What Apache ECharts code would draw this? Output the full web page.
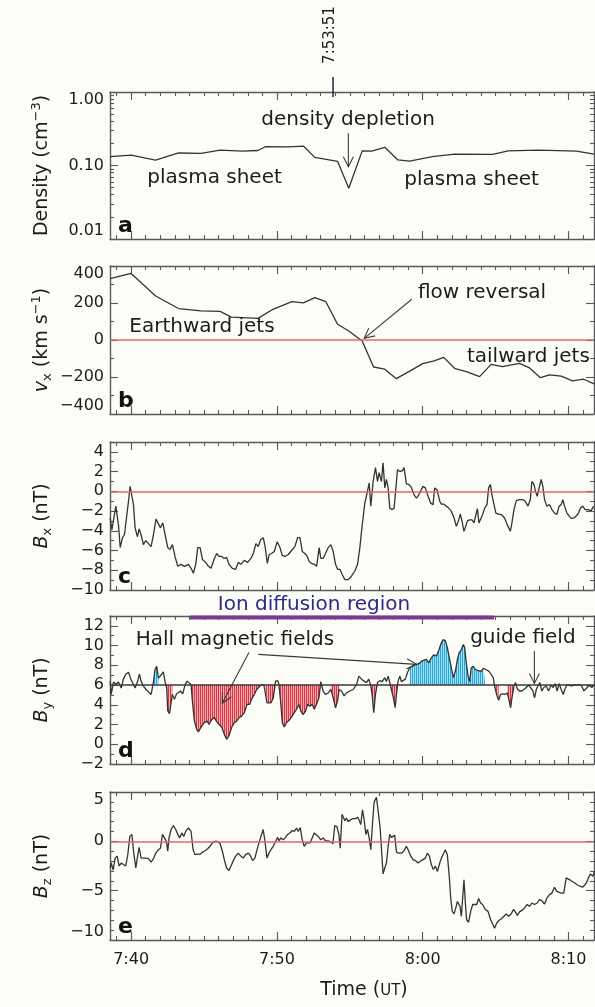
<!DOCTYPE html>
<html>
<head>
<meta charset="utf-8">
<script src="https://cdn.jsdelivr.net/npm/echarts@6/dist/echarts.min.js"></script>
<style>
  html, body { margin: 0; padding: 0; background: #fdfdf8; }
  #chart { width: 595px; height: 1007px; }
</style>
</head>
<body>
<div id="chart"></div>
<script>
// ---------- data (time in minutes after 07:00 UT) ----------
const timeRange = [38.55, 71.75];
const timeTickMinutes = [40, 50, 60, 70];
const timeTickLabels = ['7:40', '7:50', '8:00', '8:10'];

const densityTicks = [0.01, 0.1, 1];
const vxTicks = [-400, -200, 0, 200, 400];
const bxTicks = [-10, -8, -6, -4, -2, 0, 2, 4];
const byTicks = [-2, 0, 2, 4, 6, 8, 10, 12];
const bzTicks = [-10, -5, 0, 5];

const depletionTime = 53 + 51 / 60;          // 7:53:51
const depletionLabel = '7:53:51';
const guideFieldLevel = 6;                   // nT
const ionDiffusionSpan = [44.04, 64.89];

// intervals of the Hall field shading (minutes)
const hallNegativeSpans = [[38.56, 38.79], [42.33, 42.83], [44.11, 48.95], [49.22, 49.91],
  [50.14, 53.01], [53.7, 54.27], [56.44, 56.9], [57.74, 58.31], [64.93, 65.21], [65.8, 66.26]];
const hallPositiveSpans = [[41.53, 41.87], [59.11, 64.29]];

// density (cm^-3)
const densitySamples = [[38.56,0.132],[40.0,0.138],[41.68,0.118],[43.25,0.148],[44.79,0.146],[46.1,0.162],
  [47.67,0.157],[48.7,0.16],[49.2,0.18],[50.75,0.179],[51.82,0.184],[52.6,0.129],[54.16,0.114],[54.93,0.049],
  [55.85,0.158],[56.5,0.157],[57.4,0.177],[58.3,0.119],[59.1,0.115],[60.66,0.132],[62.2,0.143],[64.8,0.142],
  [65.86,0.158],[67.95,0.162],[70.55,0.157],[71.75,0.143]];

// vx (km/s)
const vxSamples = [[38.56,332],[40.0,360],[41.68,238],[43.25,170],[44.79,157],[46.1,155],[46.88,124],[48.7,117],
  [49.73,166],[51.03,207],[51.82,201],[52.6,229],[53.36,207],[54.16,85],[54.93,49],[55.85,-5],[56.63,-146],
  [57.4,-158],[58.19,-209],[59.11,-168],[60.0,-128],[60.79,-113],[61.44,-94],[62.22,-155],[63.0,-171],
  [63.9,-198],[64.69,-132],[65.47,-144],[66.64,-126],[67.29,-149],[68.07,-204],[68.7,-188],[69.5,-195],
  [70.27,-221],[71.05,-212],[71.75,-237]];

// Bx (nT)
const bxSamples = [[38.56,-2.7],[38.68,-3.9],[38.95,-1.5],[39.13,-3.4],[39.25,-5.7],[39.41,-4.7],[39.54,-4.4],
  [39.63,-4.3],[39.82,-1.0],[39.93,0.5],[40.05,0.3],[40.16,-1.35],[40.27,-3.7],[40.43,-4.6],[40.55,-3.8],
  [40.68,-4.4],[40.84,-5.4],[41.0,-5.0],[41.19,-5.3],[41.37,-5.6],[41.53,-4.4],[41.71,-2.8],[41.87,-3.3],
  [42.01,-3.7],[42.17,-3.2],[42.33,-4.4],[42.51,-5.7],[42.67,-5.9],[42.83,-5.4],[43.01,-6.6],[43.2,-7.6],
  [43.42,-7.4],[43.65,-7.6],[43.93,-7.4],[44.11,-7.8],[44.27,-8.3],[44.43,-7.4],[44.57,-5.7],[44.73,-5.7],
  [44.89,-6.9],[45.11,-7.2],[45.3,-7.6],[45.48,-7.8],[45.71,-6.8],[45.87,-6.3],[46.03,-6.6],[46.21,-6.6],
  [46.39,-6.8],[46.55,-6.7],[46.71,-7.4],[46.94,-7.8],[47.17,-7.9],[47.35,-7.2],[47.53,-7.4],[47.76,-7.0],
  [47.99,-7.2],[48.22,-6.8],[48.38,-6.3],[48.56,-5.3],[48.72,-5.6],[48.88,-4.9],[49.06,-4.7],[49.18,-5.5],
  [49.34,-7.3],[49.47,-6.4],[49.63,-6.3],[49.82,-6.1],[50.02,-5.1],[50.21,-5.7],[50.37,-6.5],[50.55,-6.6],
  [50.78,-6.4],[51.0,-6.0],[51.23,-5.6],[51.42,-4.7],[51.58,-4.7],[51.74,-6.1],[51.92,-6.3],[52.08,-6.6],
  [52.21,-7.1],[52.37,-7.3],[52.56,-7.4],[52.72,-7.6],[52.9,-5.7],[53.01,-6.8],[53.17,-6.8],[53.33,-6.3],
  [53.52,-5.7],[53.7,-5.4],[53.86,-6.1],[54.02,-7.4],[54.16,-7.9],[54.32,-7.9],[54.47,-8.4],[54.66,-8.95],
  [54.89,-8.95],[55.11,-8.6],[55.34,-8.1],[55.53,-7.4],[55.69,-5.7],[55.85,-3.4],[56.03,-1.2],[56.21,0.0],
  [56.33,0.85],[56.44,-1.5],[56.6,1.0],[56.76,2.4],[56.9,1.0],[57.01,1.9],[57.17,1.0],[57.28,2.9],[57.4,0.35],
  [57.51,1.2],[57.63,0.35],[57.74,-1.7],[57.9,-1.85],[58.04,-1.7],[58.15,0.15],[58.27,2.2],[58.43,2.0],
  [58.61,2.1],[58.72,2.4],[58.88,0.75],[59.04,0.7],[59.22,0.4],[59.41,-0.35],[59.57,-0.7],[59.73,-0.35],
  [59.86,-0.35],[60.02,0.5],[60.18,0.35],[60.37,-0.5],[60.55,-1.2],[60.71,-1.35],[60.82,0.35],[60.98,0.15],
  [61.17,-1.0],[61.28,-1.3],[61.46,-1.3],[61.62,-1.5],[61.78,-1.7],[61.96,-2.0],[62.15,-2.7],[62.31,-3.55],
  [62.47,-2.9],[62.58,-2.3],[62.69,-3.0],[62.83,-4.05],[62.95,-3.55],[63.06,-3.0],[63.22,-2.9],[63.38,-2.9],
  [63.52,-3.2],[63.63,-2.5],[63.75,-1.75],[63.86,-3.2],[63.97,-3.2],[64.11,-2.35],[64.25,-1.7],[64.41,-1.35],
  [64.52,0.35],[64.64,0.7],[64.75,-0.35],[64.89,-1.35],[65.02,-2.2],[65.21,-2.3],[65.39,-2.35],[65.62,-2.7],
  [65.8,-3.4],[66.01,-4.05],[66.12,-3.2],[66.26,-1.85],[66.42,-0.95],[66.64,-0.85],[66.87,-0.85],[67.03,-1.0],
  [67.22,-1.5],[67.38,-0.85],[67.49,1.0],[67.63,0.7],[67.74,0.0],[67.85,-0.5],[68.01,0.5],[68.13,1.2],
  [68.24,0.5],[68.36,-0.85],[68.52,-1.5],[68.7,-1.35],[68.86,-1.85],[69.04,-2.2],[69.2,-2.35],[69.36,-1.5],
  [69.5,-1.35],[69.61,-0.85],[69.73,-1.5],[69.89,-2.2],[70.02,-2.35],[70.18,-2.75],[70.37,-2.7],[70.53,-2.5],
  [70.69,-2.2],[70.82,-1.7],[70.98,-1.5],[71.14,-1.85],[71.33,-1.85],[71.44,-1.7],[71.55,-1.95],[71.74,-1.5]];

// By (nT)
const bySamples = [[38.56,6.4],[38.63,5.05],[38.79,6.3],[38.95,6.1],[39.13,6.3],[39.32,5.7],[39.47,6.6],
  [39.63,7.1],[39.82,7.3],[39.98,6.6],[40.11,6.2],[40.27,5.7],[40.43,6.3],[40.57,7.1],[40.68,6.4],[40.84,5.9],
  [41.0,5.6],[41.19,5.3],[41.37,5.05],[41.53,6.3],[41.64,7.6],[41.76,7.9],[41.87,6.7],[41.99,6.9],[42.1,7.1],
  [42.21,7.35],[42.33,6.3],[42.44,5.7],[42.51,3.4],[42.63,3.1],[42.74,3.2],[42.83,5.05],[42.97,4.55],
  [43.11,5.1],[43.24,4.95],[43.38,5.4],[43.54,5.1],[43.7,6.05],[43.84,6.4],[43.97,6.6],[44.11,6.05],[44.2,4.4],
  [44.34,2.35],[44.5,1.5],[44.61,1.25],[44.73,1.05],[44.84,1.85],[45.02,2.2],[45.21,2.35],[45.34,2.0],
  [45.53,2.5],[45.71,2.7],[45.87,2.3],[46.03,2.0],[46.21,1.75],[46.39,1.0],[46.55,0.5],[46.71,0.85],[46.89,1.7],
  [47.08,2.2],[47.24,2.35],[47.4,2.7],[47.58,2.85],[47.76,3.2],[47.95,4.05],[48.13,4.05],[48.26,4.55],
  [48.45,5.05],[48.61,5.55],[48.77,5.8],[48.95,6.05],[49.11,6.0],[49.22,6.1],[49.32,4.2],[49.45,4.1],[49.59,4.2],
  [49.75,4.7],[49.91,6.4],[50.05,6.45],[50.14,6.05],[50.25,4.4],[50.37,2.2],[50.5,1.75],[50.66,2.2],[50.82,2.4],
  [51.0,2.75],[51.19,3.2],[51.35,3.55],[51.51,4.05],[51.64,3.35],[51.8,3.0],[51.96,3.35],[52.1,4.05],
  [52.26,3.85],[52.42,4.05],[52.56,3.55],[52.65,3.35],[52.76,4.2],[52.88,4.7],[53.01,6.35],[53.17,5.4],
  [53.33,5.05],[53.52,5.2],[53.7,5.55],[53.86,4.7],[54.02,3.7],[54.16,4.4],[54.27,5.55],[54.43,5.4],[54.61,4.9],
  [54.77,5.2],[55.0,5.4],[55.23,5.55],[55.46,6.05],[55.62,6.9],[55.8,6.6],[55.98,6.4],[56.14,6.25],[56.3,6.6],
  [56.44,5.9],[56.53,5.05],[56.64,3.2],[56.76,5.05],[56.9,6.25],[57.06,6.45],[57.22,6.35],[57.4,6.75],
  [57.51,6.35],[57.63,6.9],[57.74,6.25],[57.85,5.55],[57.99,4.7],[58.11,3.7],[58.2,5.05],[58.31,6.4],[58.43,6.9],
  [58.54,6.35],[58.65,6.25],[58.81,6.6],[58.95,7.25],[59.11,7.75],[59.27,7.9],[59.45,8.1],[59.64,8.1],
  [59.8,8.25],[59.96,8.45],[60.09,8.45],[60.25,8.6],[60.41,8.25],[60.59,8.75],[60.75,9.05],[60.94,8.95],
  [61.1,9.5],[61.23,10.1],[61.39,10.6],[61.55,10.5],[61.69,9.8],[61.8,8.95],[61.92,8.1],[62.01,7.4],[62.1,6.75],
  [62.24,7.4],[62.38,8.6],[62.51,9.3],[62.65,9.6],[62.79,10.1],[62.88,9.8],[62.99,8.25],[63.11,6.9],[63.22,6.35],
  [63.33,7.75],[63.47,7.9],[63.61,7.6],[63.75,7.5],[63.88,7.35],[64.02,7.4],[64.16,7.7],[64.29,7.9],[64.43,7.5],
  [64.57,7.35],[64.7,7.35],[64.84,6.75],[64.93,5.9],[65.07,5.05],[65.21,4.45],[65.34,5.05],[65.5,5.1],
  [65.66,5.05],[65.8,5.2],[65.91,4.55],[66.03,3.7],[66.12,4.7],[66.26,5.9],[66.37,6.25],[66.48,5.65],[66.64,5.4],
  [66.8,5.4],[66.94,5.55],[67.1,5.75],[67.26,6.0],[67.4,5.75],[67.56,5.4],[67.67,4.7],[67.79,5.55],[67.9,5.9],
  [68.04,6.25],[68.17,5.4],[68.31,5.75],[68.47,5.9],[68.63,5.4],[68.81,6.0],[68.95,5.75],[69.09,6.15],
  [69.22,5.4],[69.36,6.15],[69.5,5.55],[69.64,5.05],[69.77,5.65],[69.91,6.05],[70.05,6.0],[70.23,5.9],
  [70.41,6.05],[70.59,6.0],[70.75,6.05],[70.91,5.9],[71.05,5.4],[71.14,5.2],[71.28,5.75],[71.44,6.0],
  [71.6,5.75],[71.74,6.0]];

// Bz (nT)
const bzSamples = [[38.56,-2.7],[38.63,-2.2],[38.77,-2.9],[38.9,-1.7],[39.04,-1.5],[39.18,-2.5],[39.32,-2.2],
  [39.47,-2.35],[39.63,-2.5],[39.77,-1.35],[39.91,0.5],[40.05,0.7],[40.18,-1.2],[40.32,-2.7],[40.46,-1.35],
  [40.55,-0.6],[40.68,-1.7],[40.84,-1.7],[41.0,-1.7],[41.19,-1.75],[41.37,-2.1],[41.53,-1.75],[41.69,-1.2],
  [41.87,-0.85],[42.01,-0.7],[42.15,0.7],[42.28,0.85],[42.42,0.0],[42.51,-1.0],[42.6,0.35],[42.74,1.2],
  [42.9,1.6],[43.06,1.2],[43.2,0.7],[43.33,0.35],[43.47,0.85],[43.61,0.5],[43.74,1.0],[43.93,1.35],[44.11,1.0],
  [44.25,-0.85],[44.38,-1.35],[44.57,-1.3],[44.73,-1.3],[44.89,-1.1],[45.07,-0.95],[45.25,-0.75],[45.41,-0.5],
  [45.57,-0.15],[45.75,0.0],[45.94,0.0],[46.1,-0.25],[46.26,-1.0],[46.39,-1.85],[46.55,-2.7],[46.71,-2.95],
  [46.85,-2.5],[47.01,-1.95],[47.17,-1.5],[47.35,-1.2],[47.53,-1.5],[47.69,-1.7],[47.85,-1.35],[48.04,-1.2],
  [48.2,-1.5],[48.33,-1.95],[48.49,-1.7],[48.61,-1.0],[48.77,-0.15],[48.95,0.7],[49.06,1.2],[49.18,0.0],
  [49.32,-1.7],[49.45,-1.2],[49.59,-0.85],[49.75,-0.5],[49.91,0.0],[50.05,0.4],[50.14,0.05],[50.27,0.35],
  [50.43,0.15],[50.59,0.4],[50.73,0.7],[50.89,0.85],[51.05,1.1],[51.19,1.0],[51.35,1.35],[51.46,1.0],[51.6,1.4],
  [51.74,0.15],[51.87,-0.5],[52.03,-0.15],[52.15,0.05],[52.28,-0.15],[52.42,0.35],[52.56,0.85],[52.69,1.0],
  [52.83,0.5],[53.01,0.15],[53.17,0.35],[53.33,0.05],[53.52,0.05],[53.7,-0.05],[53.84,-0.25],[53.97,1.6],
  [54.11,1.5],[54.25,0.7],[54.34,-0.7],[54.47,2.75],[54.54,2.5],[54.66,2.1],[54.77,2.35],[54.89,2.0],
  [55.07,2.2],[55.23,2.3],[55.39,2.3],[55.53,2.45],[55.62,2.2],[55.75,1.7],[55.87,3.2],[55.98,2.2],[56.1,0.7],
  [56.21,1.2],[56.33,0.35],[56.44,-0.85],[56.55,1.7],[56.67,4.0],[56.83,4.45],[56.94,4.55],[57.08,1.35],
  [57.17,-0.7],[57.28,-3.3],[57.4,-2.7],[57.51,-2.2],[57.63,-0.5],[57.74,0.7],[57.85,0.4],[57.97,0.35],
  [58.08,0.6],[58.2,-1.1],[58.36,-1.2],[58.54,-1.2],[58.72,-0.95],[58.88,-0.5],[59.0,-0.85],[59.18,-1.5],
  [59.34,-1.85],[59.5,-1.95],[59.68,-2.2],[59.86,-2.0],[60.02,-1.85],[60.18,-1.7],[60.32,-1.2],[60.46,-1.5],
  [60.59,-2.35],[60.73,-2.85],[60.87,-2.5],[61.01,-3.05],[61.17,-2.2],[61.28,-1.7],[61.44,-1.2],[61.55,-0.85],
  [61.69,-1.35],[61.83,-3.7],[61.92,-5.75],[62.03,-7.1],[62.15,-7.35],[62.28,-6.7],[62.38,-6.1],[62.47,-6.1],
  [62.56,-6.6],[62.65,-7.6],[62.74,-7.4],[62.83,-3.9],[62.92,-6.1],[63.01,-7.95],[63.15,-8.2],[63.29,-7.1],
  [63.43,-6.4],[63.56,-6.35],[63.7,-6.4],[63.84,-5.8],[63.97,-6.25],[64.11,-6.4],[64.29,-6.9],[64.48,-7.1],
  [64.66,-7.95],[64.82,-8.45],[64.93,-8.8],[65.07,-8.3],[65.21,-8.05],[65.39,-7.85],[65.57,-7.6],[65.73,-7.35],
  [65.89,-7.6],[66.07,-7.35],[66.23,-6.9],[66.35,-7.15],[66.49,-7.5],[66.64,-7.15],[66.8,-7.0],[66.99,-6.75],
  [67.17,-6.4],[67.33,-6.6],[67.49,-6.25],[67.67,-6.4],[67.85,-6.25],[68.01,-5.9],[68.17,-6.0],[68.36,-6.35],
  [68.52,-5.75],[68.7,-5.4],[68.86,-5.25],[69.04,-4.65],[69.18,-5.05],[69.32,-5.15],[69.5,-5.25],[69.68,-5.25],
  [69.84,-3.7],[69.96,-3.55],[70.09,-3.9],[70.23,-4.05],[70.41,-4.2],[70.59,-4.4],[70.78,-4.55],[70.96,-4.65],
  [71.1,-4.45],[71.23,-4.2],[71.37,-3.7],[71.51,-3.3],[71.67,-3.55],[71.78,-3.05]];

// ---------- styling ----------
const FONT = 'DejaVu Sans';
const INK = '#1c1c1c';
const FRAME = '#585858';
const TRACE = '#333333';
const ZERO_RED = '#e4646c';
const TICK_FONT = 16;
const NOTE_FONT = 20;

const gridLeft = 110, gridWidth = 484;
const panelBoxes = [[92, 147], [266, 148], [442, 148], [616, 148], [792, 148]];

const minuteTicks = [];
for (let m = 39; m <= 71; m++) minuteTicks.push(m);

function intSteps(lo, hi, step) { const a = []; for (let v = lo; v <= hi + 1e-9; v += step) a.push(+v.toFixed(6)); return a; }
const densityMinor = [];
[0.01, 0.1].forEach(d => { for (let k = 2; k <= 9; k++) densityMinor.push(+(d * k).toFixed(4)); });

const minusFmt = v => String(v).replace('-', '\u2212');

const nameRich = {
  n:   { fontFamily: FONT, fontSize: 19, color: INK, lineHeight: 24 },
  i:   { fontFamily: FONT, fontSize: 19, color: INK, lineHeight: 24, fontStyle: 'italic' },
  sub: { fontFamily: FONT, fontSize: 13, color: INK, lineHeight: 11, verticalAlign: 'bottom' },
  sup: { fontFamily: FONT, fontSize: 13, color: INK, lineHeight: 15, verticalAlign: 'top' },
  sc:  { fontFamily: FONT, fontSize: 15, color: INK, lineHeight: 24, verticalAlign: 'middle', padding: [3, 0, 0, 0] }
};

const panels = [
  { type: 'log', min: 0.01, max: 1, ticks: densityTicks, minor: densityMinor, fmt: v => v.toFixed(2),
    name: '{n|Density (cm}{sup|\u22123}{n|)}', edgeLabels: true },
  { type: 'value', min: -400, max: 400, ticks: vxTicks, minor: intSteps(-300, 300, 200), fmt: minusFmt,
    name: '{i|v}{sub|x}{n| (km s}{sup|\u22121}{n|)}', edgeLabels: true },
  { type: 'value', min: -10, max: 5, ticks: bxTicks, minor: intSteps(-9, 5, 2), fmt: minusFmt,
    name: '{i|B}{sub|x}{n| (nT)}', edgeLabels: false },
  { type: 'value', min: -2, max: 13, ticks: byTicks, minor: intSteps(-1, 13, 2), fmt: minusFmt,
    name: '{i|B}{sub|y}{n| (nT)}', edgeLabels: false },
  { type: 'value', min: -10, max: 5, ticks: bzTicks, minor: intSteps(-9, 4, 1).filter(v => v % 5 !== 0), fmt: minusFmt,
    name: '{i|B}{sub|z}{n| (nT)}', edgeLabels: true }
];

const frameLine = { color: FRAME, width: 1.4 };
const tickLine = { color: FRAME, width: 1.1 };

const grids = panelBoxes.map(([top, height]) => ({
  left: gridLeft, top: top, width: gridWidth, height: height,
  containLabel: false, outerBoundsMode: 'none', show: false
}));

const xAxes = [];
const yAxes = [];
panels.forEach((p, i) => {
  const last = i === panels.length - 1;
  const xBase = { gridIndex: i, type: 'value', min: timeRange[0], max: timeRange[1], splitLine: { show: false } };
  xAxes.push(Object.assign({}, xBase, {
    position: 'bottom',
    axisLine: { show: true, onZero: false, lineStyle: frameLine },
    axisTick: { show: true, inside: true, length: 8, customValues: timeTickMinutes, lineStyle: tickLine },
    axisLabel: { show: last, customValues: timeTickMinutes, margin: 12, fontFamily: FONT, fontSize: TICK_FONT, color: INK,
      formatter: v => timeTickLabels[timeTickMinutes.indexOf(v)] || '' },
    name: last ? '{n|Time (}{sc|UT}{n|)}' : '',
    nameLocation: 'middle', nameGap: 38, nameMoveOverlap: false,
    nameTextStyle: { rich: nameRich, padding: [0, 0, 0, 24] }
  }));
  xAxes.push(Object.assign({}, xBase, {
    position: 'bottom', axisLine: { show: false, onZero: false },
    axisTick: { show: true, inside: true, length: 4, customValues: minuteTicks, lineStyle: tickLine },
    axisLabel: { show: false }
  }));
  xAxes.push(Object.assign({}, xBase, {
    position: 'top', axisLine: { show: true, onZero: false, lineStyle: frameLine },
    axisTick: { show: true, inside: true, length: 8, customValues: timeTickMinutes, lineStyle: tickLine },
    axisLabel: { show: false }
  }));
  xAxes.push(Object.assign({}, xBase, {
    position: 'top', axisLine: { show: false, onZero: false },
    axisTick: { show: true, inside: true, length: 4, customValues: minuteTicks, lineStyle: tickLine },
    axisLabel: { show: false }
  }));

  const yBase = { gridIndex: i, type: p.type, min: p.min, max: p.max, splitLine: { show: false } };
  if (p.type === 'log') yBase.logBase = 10;
  const labelCfg = { show: true, customValues: p.ticks, formatter: p.fmt, margin: 6,
    fontFamily: FONT, fontSize: TICK_FONT, color: INK };
  if (p.edgeLabels) { labelCfg.verticalAlignMaxLabel = 'top'; labelCfg.verticalAlignMinLabel = 'bottom'; }
  yAxes.push(Object.assign({}, yBase, {
    position: 'left',
    axisLine: { show: true, onZero: false, lineStyle: frameLine },
    axisTick: { show: true, inside: true, length: 8, customValues: p.ticks, lineStyle: tickLine },
    axisLabel: labelCfg,
    name: p.name, nameLocation: 'middle', nameRotate: 90, nameGap: 56, nameMoveOverlap: false,
    nameTextStyle: { rich: nameRich }
  }));
  yAxes.push(Object.assign({}, yBase, {
    position: 'left', axisLine: { show: false, onZero: false },
    axisTick: { show: true, inside: true, length: 4, customValues: p.minor, lineStyle: tickLine },
    axisLabel: { show: false }
  }));
  yAxes.push(Object.assign({}, yBase, {
    position: 'right', axisLine: { show: true, onZero: false, lineStyle: frameLine },
    axisTick: { show: true, inside: true, length: 8, customValues: p.ticks, lineStyle: tickLine },
    axisLabel: { show: false }
  }));
  yAxes.push(Object.assign({}, yBase, {
    position: 'right', axisLine: { show: false, onZero: false },
    axisTick: { show: true, inside: true, length: 4, customValues: p.minor, lineStyle: tickLine },
    axisLabel: { show: false }
  }));
});

// hatched fill: coloured vertical strokes with pale gaps between them
function stripes(dark, light) {
  const c = document.createElement('canvas');
  c.width = 2; c.height = 4;
  const g = c.getContext('2d');
  g.fillStyle = light; g.fillRect(0, 0, 2, 4);
  g.fillStyle = dark; g.fillRect(0, 0, 1, 4);
  return { image: c, repeat: 'repeat' };
}

function inSpans(t, spans) { return spans.some(([a, b]) => t >= a - 1e-6 && t <= b + 1e-6); }
const hallNegative = bySamples.map(([t, v]) => [t, inSpans(t, hallNegativeSpans) ? Math.min(v, guideFieldLevel) : null]);
const hallPositive = bySamples.map(([t, v]) => [t, inSpans(t, hallPositiveSpans) ? Math.max(v, guideFieldLevel) : null]);

function trace(panel, samples, refLevel, refColor) {
  const s = {
    type: 'line', xAxisIndex: 4 * panel, yAxisIndex: 4 * panel, data: samples,
    symbol: 'none', showSymbol: false, silent: true, z: 3,
    lineStyle: { color: TRACE, width: 1.3 }
  };
  if (refLevel !== undefined) {
    s.markLine = { silent: true, symbol: ['none', 'none'], label: { show: false }, animation: false,
      lineStyle: { color: refColor, width: 1.6, type: 'solid', opacity: 1 }, emphasis: { disabled: true },
      data: [{ yAxis: refLevel }] };
  }
  return s;
}

function hatch(samples, fill) {
  return {
    type: 'line', xAxisIndex: 12, yAxisIndex: 12, data: samples, symbol: 'none', showSymbol: false,
    silent: true, connectNulls: false, z: 2,
    lineStyle: { width: 0, opacity: 0 },
    areaStyle: { origin: guideFieldLevel, color: fill, opacity: 1 }
  };
}

const option = {
  animation: false,
  backgroundColor: '#fdfdf8',
  grid: grids,
  xAxis: xAxes,
  yAxis: yAxes,
  series: [
    trace(0, densitySamples),
    trace(1, vxSamples, 0, ZERO_RED),
    trace(2, bxSamples, 0, ZERO_RED),
    hatch(hallNegative, stripes('#e0323f', '#f4aeb2')),
    hatch(hallPositive, stripes('#1fa9de', '#a9def2')),
    trace(3, bySamples, guideFieldLevel, '#3a3a3a'),
    trace(4, bzSamples, 0, ZERO_RED)
  ]
};

const chart = echarts.init(document.getElementById('chart'), null, { renderer: 'canvas' });
chart.setOption(option);

// ---------- annotations placed in data coordinates ----------
const notes = [
  { panel: 0, at: [54.88, 0.416], text: 'density depletion' },
  { panel: 0, at: [45.72, 0.0676], text: 'plasma sheet' },
  { panel: 0, at: [63.35, 0.0635], text: 'plasma sheet' },
  { panel: 1, at: [44.86, 73], text: 'Earthward jets' },
  { panel: 1, at: [64.07, 254], text: 'flow reversal' },
  { panel: 1, at: [67.25, -89], text: 'tailward jets' },
  { panel: 3, at: [52.54, 14.1], text: 'Ion diffusion region', color: '#2d2a8a' },
  { panel: 3, at: [47.12, 10.56], text: 'Hall magnetic fields' },
  { panel: 3, at: [66.87, 10.81], text: 'guide field' }
];
const pointers = [
  { panel: 0, from: [54.9, 0.274], to: [54.9, 0.0964] },
  { panel: 1, from: [59.25, 220], to: [55.99, 9] },
  { panel: 3, from: [48.08, 9.31], to: [46.25, 4.15] },
  { panel: 3, from: [48.72, 9.11], to: [59.59, 8.1] },
  { panel: 3, from: [67.66, 9.45], to: [67.66, 6.17] }
];
const panelLetters = ['a', 'b', 'c', 'd', 'e'];

const toPx = (panel, t, v) => chart.convertToPixel({ xAxisIndex: 4 * panel, yAxisIndex: 4 * panel }, [t, v]);

function arrow(p0, p1) {
  const dx = p1[0] - p0[0], dy = p1[1] - p0[1];
  const len = Math.hypot(dx, dy), ux = dx / len, uy = dy / len;
  const hl = 10, hw = 5;
  const a = [p1[0] - ux * hl - uy * hw, p1[1] - uy * hl + ux * hw];
  const b = [p1[0] - ux * hl + uy * hw, p1[1] - uy * hl - ux * hw];
  const st = { stroke: '#3a3a3a', lineWidth: 1.1, fill: null };
  return [
    { type: 'line', silent: true, z: 50, shape: { x1: p0[0], y1: p0[1], x2: p1[0], y2: p1[1] }, style: st },
    { type: 'polyline', silent: true, z: 50, shape: { points: [a, p1, b] }, style: st }
  ];
}

const graphics = [];
notes.forEach(n => {
  const p = toPx(n.panel, n.at[0], n.at[1]);
  graphics.push({ type: 'text', silent: true, z: 50, x: p[0], y: p[1],
    style: { text: n.text, fontFamily: FONT, fontSize: NOTE_FONT, fill: n.color || INK,
      align: 'center', verticalAlign: 'middle' } });
});
pointers.forEach(a => {
  graphics.push(...arrow(toPx(a.panel, a.from[0], a.from[1]), toPx(a.panel, a.to[0], a.to[1])));
});

// ion diffusion region bar sits on the top frame of the By panel
const barL = toPx(3, ionDiffusionSpan[0], 12.85), barR = toPx(3, ionDiffusionSpan[1], 12.85);
graphics.push({ type: 'line', silent: true, z: 60,
  shape: { x1: barL[0], y1: barL[1], x2: barR[0], y2: barR[1] },
  style: { stroke: '#7a3a94', lineWidth: 4 } });

// time marker above the density panel
const mTop = toPx(0, depletionTime, 1);
graphics.push({ type: 'line', silent: true, z: 60,
  shape: { x1: mTop[0], y1: mTop[1] - 15, x2: mTop[0], y2: mTop[1] + 5 },
  style: { stroke: '#22223a', lineWidth: 1.5 } });
graphics.push({ type: 'text', silent: true, z: 60, x: mTop[0] - 3, y: 35, rotation: Math.PI / 2,
  style: { text: depletionLabel, fontFamily: FONT, fontSize: 15, fill: INK, align: 'center', verticalAlign: 'middle' } });

// panel letters
panelBoxes.forEach(([top, height], i) => {
  graphics.push({ type: 'text', silent: true, z: 60, x: gridLeft + 8, y: top + height - 2,
    style: { text: panelLetters[i], fontFamily: FONT, fontSize: 22, fontWeight: 'bold', fill: '#111',
      align: 'left', verticalAlign: 'bottom' } });
});

chart.setOption({ graphic: graphics });
</script>
</body>
</html>
